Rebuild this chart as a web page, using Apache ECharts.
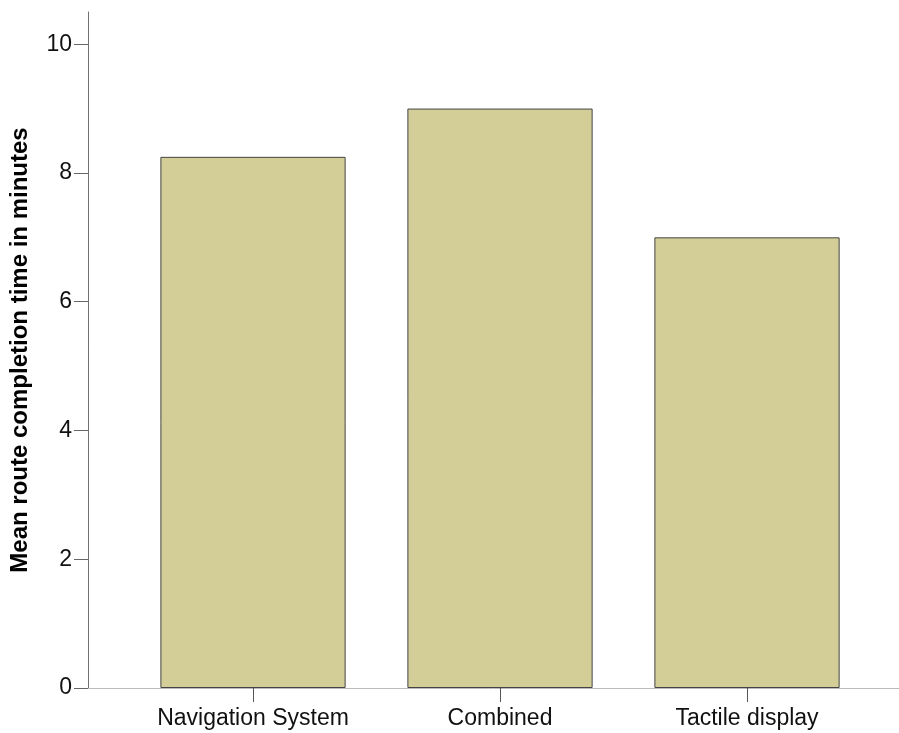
<!DOCTYPE html>
<html>
<head>
<meta charset="utf-8">
<script src="https://cdn.jsdelivr.net/npm/echarts@6/dist/echarts.min.js"></script>
<style>html,body{margin:0;padding:0;background:#fff}#c{width:899px;height:733px}</style>
</head>
<body>
<div id="c"></div>
<script>
var categories = ['Navigation System', 'Combined', 'Tactile display'];
var meanTimes = [8.25, 9.0, 7.0];
var yTicks = [0, 2, 4, 6, 8, 10];
var yTitle = 'Mean route completion time in minutes';

var chart = echarts.init(document.getElementById('c'), null, {renderer: 'canvas'});
var font = 'Liberation Sans, Arial, sans-serif';
chart.setOption({
  animation: false,
  backgroundColor: '#ffffff',
  grid: [
    {left: 129.5, right: 28.5, top: 12, bottom: 45},
    {left: 88, right: 0, top: 12, bottom: 45}
  ],
  xAxis: [
    {
      type: 'category', gridIndex: 0, data: categories,
      axisLine: {show: false},
      axisTick: {show: true, interval: 0, alignWithLabel: true, length: 14, lineStyle: {color: '#555555', width: 1}},
      axisLabel: {interval: 0, hideOverlap: false, color: '#111111', fontSize: 23, fontFamily: font, margin: 19},
      splitLine: {show: false}
    },
    {
      type: 'value', gridIndex: 1, min: 0, max: 1,
      axisLine: {show: true, onZero: false, lineStyle: {color: '#bbbbbb', width: 1}},
      axisTick: {show: false}, axisLabel: {show: false}, splitLine: {show: false}
    }
  ],
  yAxis: [
    {
      type: 'value', gridIndex: 0, min: 0, max: 10.5, interval: 2, offset: 41.5,
      name: yTitle, nameLocation: 'middle', nameGap: 56,
      nameTextStyle: {fontSize: 24, fontWeight: 'bold', color: '#000000', fontFamily: font},
      axisLine: {show: true, lineStyle: {color: '#707070', width: 1}},
      axisTick: {show: true, length: 14, customValues: yTicks, lineStyle: {color: '#666666', width: 1}},
      axisLabel: {color: '#111111', fontSize: 23, fontFamily: font, margin: 16, customValues: yTicks},
      splitLine: {show: false}
    },
    {
      type: 'value', gridIndex: 1, show: false, min: 0, max: 1
    }
  ],
  series: [{
    type: 'bar', xAxisIndex: 0, yAxisIndex: 0,
    data: meanTimes,
    barWidth: '75%',
    itemStyle: {color: '#d3ce98', borderColor: '#444444', borderWidth: 1}
  }]
});
</script>
</body>
</html>
